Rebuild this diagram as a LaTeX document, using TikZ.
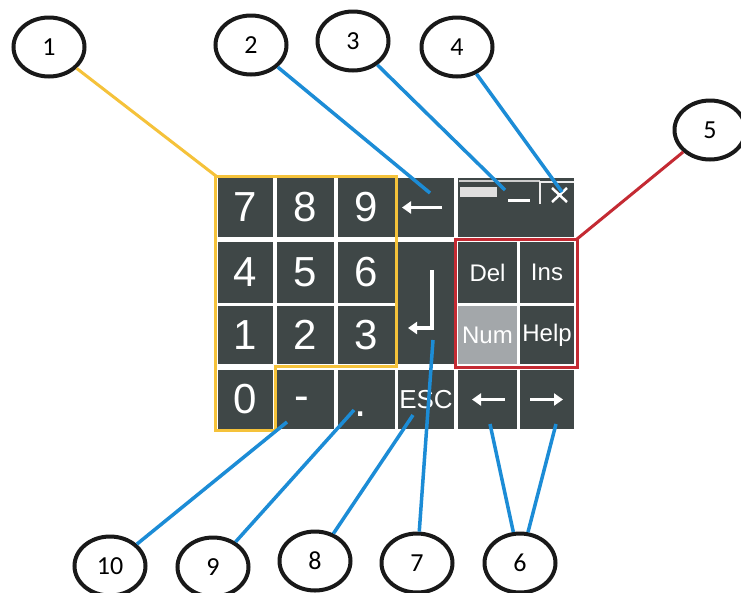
\documentclass[tikz,border=0pt]{standalone}
\usepackage{fontspec}
\setmainfont{Liberation Sans}
\newfontfamily\calloutfont{Carlito}
\usetikzlibrary{shapes.geometric,arrows.meta}
\definecolor{keygray}{HTML}{3F4747}
\definecolor{numgray}{HTML}{A3A7AA}
\definecolor{ylw}{HTML}{F5C23A}
\definecolor{blu}{HTML}{1C8CD6}
\definecolor{rd}{HTML}{C42A33}
\begin{document}
\begin{tikzpicture}[x=1pt,y=-1pt,
  key/.style={fill=keygray, draw=none, text=white, inner sep=0pt},
  kw/.style 2 args={minimum width=#1pt, minimum height=#2pt},
  digit/.style={font=\fontsize{42}{42}\selectfont},
  word/.style={font=\fontsize{24}{24}\selectfont},
  callout/.style={ellipse, draw=black!90, line width=4pt, fill=white, inner sep=0pt,
    minimum width=71pt, minimum height=59pt, font=\calloutfont\fontsize{26}{26}\selectfont},
  glyph/.style={draw=white, line width=3.5pt, -{Triangle[width=12pt,length=9pt]}},
  blueline/.style={draw=blu, line width=3.5pt},
  yline/.style={draw=ylw, line width=3pt},
  rline/.style={draw=rd, line width=3pt}]
\useasboundingbox (0,0) rectangle (741,592);
\fill[white] (0,0) rectangle (741,592);

% row 1
\node[key,digit,kw={55}{59}] (k7) at (245.5,207.5) {7};
\node[key,digit,kw={57}{59}] (k8) at (305.5,207.5) {8};
\node[key,digit,kw={57}{59}] (k9) at (366.5,207.5) {9};
\node[key,kw={56}{59}] (kbs) at (426,207.5) {};
\node[key,kw={116}{59}] (kbar) at (516,207.5) {};
% row 2
\node[key,digit,kw={55}{61}] (k4) at (245.5,272.5) {4};
\node[key,digit,kw={57}{61}] (k5) at (305.5,272.5) {5};
\node[key,digit,kw={57}{61}] (k6) at (366.5,272.5) {6};
\node[key,kw={56}{122}] (kent) at (426,303) {};
\node[key,word,kw={59}{61}] (kdel) at (487.5,272.5) {Del};
\node[key,word,kw={54}{61}] (kins) at (547,272.5) {Ins};
% row 3
\node[key,digit,kw={55}{58}] (k1) at (245.5,335) {1};
\node[key,digit,kw={57}{58}] (k2) at (305.5,335) {2};
\node[key,digit,kw={57}{58}] (k3) at (366.5,335) {3};
\node[key,word,kw={59}{58},fill=numgray] (knum) at (487.5,335) {Num};
\node[key,word,kw={54}{58}] (khelp) at (547,335) {Help};
% row 4
\node[key,digit,kw={55}{59}] (k0) at (245.5,399.5) {0};
\node[key,kw={57}{59}] (kminus) at (305.5,399.5) {};
\node[font=\fontsize{44}{44}\selectfont, text=white, inner sep=0pt] (tminus) at (302,404) {-};
\node[key,kw={57}{59}] (kdot) at (366.5,399.5) {};
\node[font=\fontsize{44}{44}\selectfont, text=white, inner sep=0pt] (tdot) at (361,414) {.};
\node[key,font=\fontsize{26}{26}\selectfont,kw={56}{59}] (kesc) at (426,399.5) {ESC};
\node[key,kw={59}{59}] (kleft) at (487.5,399.5) {};
\node[key,kw={54}{59}] (kright) at (547,399.5) {};

% key glyphs
\draw[glyph] ([shift={(16,0)}]kbs.center) -- ([shift={(-24,0)}]kbs.center);
\draw[glyph] ([shift={(6,-33)}]kent.center) -- ([shift={(6,25)}]kent.center) -- ([shift={(-18,25)}]kent.center);
\draw[glyph] ([shift={(17.5,0)}]kleft.center) -- ([shift={(-15.5,0)}]kleft.center);
\draw[glyph] ([shift={(-17,0)}]kright.center) -- ([shift={(16,0)}]kright.center);

% title bar icons
\draw[gray!40, line width=1.2pt] (459,181) -- (540,181);
\fill[gray!25] (460,187) rectangle (497,197);
\draw[white, line width=3pt] (508,200) -- (530,200);
\draw[white!85!gray, line width=2pt] (540,204) -- (540,182) -- (574,182);
\draw[white, line width=2.5pt] (552,188) -- (567,202) (552,202) -- (567,188);

% yellow outline
\draw[yline] (215,176) -- (396,176) -- (396,366) -- (275,366) -- (275,430) -- (215,430) -- cycle;
% red box
\draw[rline] (455,239) rectangle (577,367);

% callouts
\node[callout] (c1) at (49,47) {1};
\node[callout] (c2) at (251,45) {2};
\node[callout] (c3) at (353,41) {3};
\node[callout] (c4) at (457,47) {4};
\node[callout] (c5) at (710,130) {5};
\node[callout] (c10) at (110,566) {10};
\node[callout] (c9) at (213,567) {9};
\node[callout] (c8) at (315,561) {8};
\node[callout] (c7) at (417,563) {7};
\node[callout] (c6) at (520,563) {6};

% connector ends
\coordinate (p1) at (216,176);
\coordinate (p2) at (430,193);
\coordinate (p3) at (505,190);
\coordinate (p4) at (562,192);
\coordinate (p5) at (577,239);
\coordinate (p6a) at (490,424);
\coordinate (p6b) at (556,424);
\coordinate (p7) at (433,340);
\coordinate (p8) at (413,415);
\coordinate (p9) at (354,410);
\coordinate (p10) at (287,422);

\draw[yline] (c1) -- (p1);
\draw[blueline] (c2) -- (p2);
\draw[blueline] (c3) -- (p3);
\draw[blueline] (c4) -- (p4);
\draw[rline] (c5) -- (p5);
\draw[blueline] (c6) -- (p6a);
\draw[blueline] (c6) -- (p6b);
\draw[blueline] (c7) -- (p7);
\draw[blueline] (c8) -- (p8);
\draw[blueline] (c9) -- (p9);
\draw[blueline] (c10) -- (p10);
\end{tikzpicture}
\end{document}
